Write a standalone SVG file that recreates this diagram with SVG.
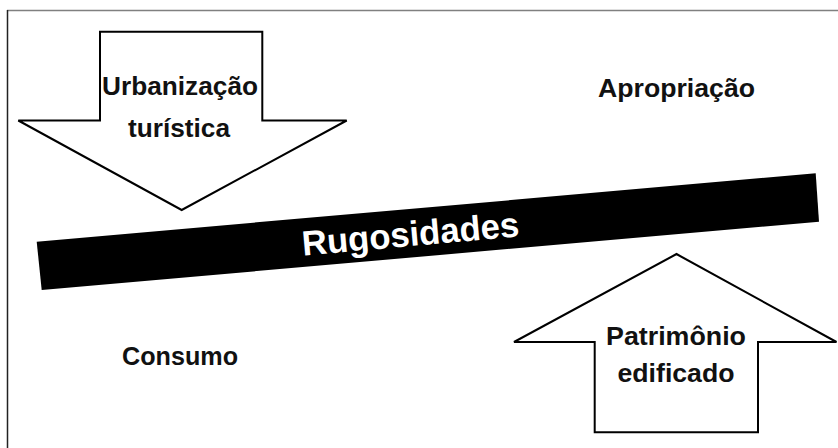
<svg xmlns="http://www.w3.org/2000/svg" width="838" height="448" viewBox="0 0 838 448">
<style>
.arrow{fill:#fff;stroke:#000;stroke-width:2;stroke-linejoin:miter}
.lbl{font-family:"Liberation Sans",Arial,sans-serif;font-weight:bold;font-size:26px;fill:#111;text-anchor:middle}
.bar-lbl{font-family:"Liberation Sans",Arial,sans-serif;font-weight:bold;font-size:35px;fill:#fff;text-anchor:middle}
</style>
<rect width="838" height="448" fill="#fff"/>
<g id="frame">
<line x1="7" y1="10.5" x2="838" y2="10.5" stroke="#808080" stroke-width="1.5"/>
<line x1="7.5" y1="10" x2="7.5" y2="448" stroke="#222" stroke-width="1.5"/>
</g>
<g id="urbanizacao">
<polygon class="arrow" points="100,31.7 262.3,31.7 262.3,120.5 346.7,120.5 181.7,210 18.3,120.5 100,120.5"/>
<text class="lbl" x="180" y="95" textLength="156" lengthAdjust="spacingAndGlyphs">Urbanização</text>
<text class="lbl" x="179" y="137" textLength="102" lengthAdjust="spacingAndGlyphs">turística</text>
</g>
<g id="rugosidades">
<polygon points="36.7,241.7 815.7,173.3 819,221.7 41.7,290" fill="#000"/>
<text class="bar-lbl" x="411.5" y="246" transform="rotate(-5.1 411.5 246)" textLength="218" lengthAdjust="spacingAndGlyphs">Rugosidades</text>
</g>
<g id="apropriacao">
<text class="lbl" x="676.5" y="96.5" textLength="157" lengthAdjust="spacingAndGlyphs">Apropriação</text>
</g>
<g id="consumo">
<text class="lbl" x="180" y="365" textLength="116" lengthAdjust="spacingAndGlyphs">Consumo</text>
</g>
<g id="patrimonio">
<polygon class="arrow" points="676.5,254 836.5,342 758,342 758,432.3 594.7,432.3 594.7,342 514,342"/>
<text class="lbl" x="676" y="344.7" textLength="140" lengthAdjust="spacingAndGlyphs">Patrimônio</text>
<text class="lbl" x="676" y="382.3" textLength="117" lengthAdjust="spacingAndGlyphs">edificado</text>
</g>
<g id="connectors"></g>
</svg>
